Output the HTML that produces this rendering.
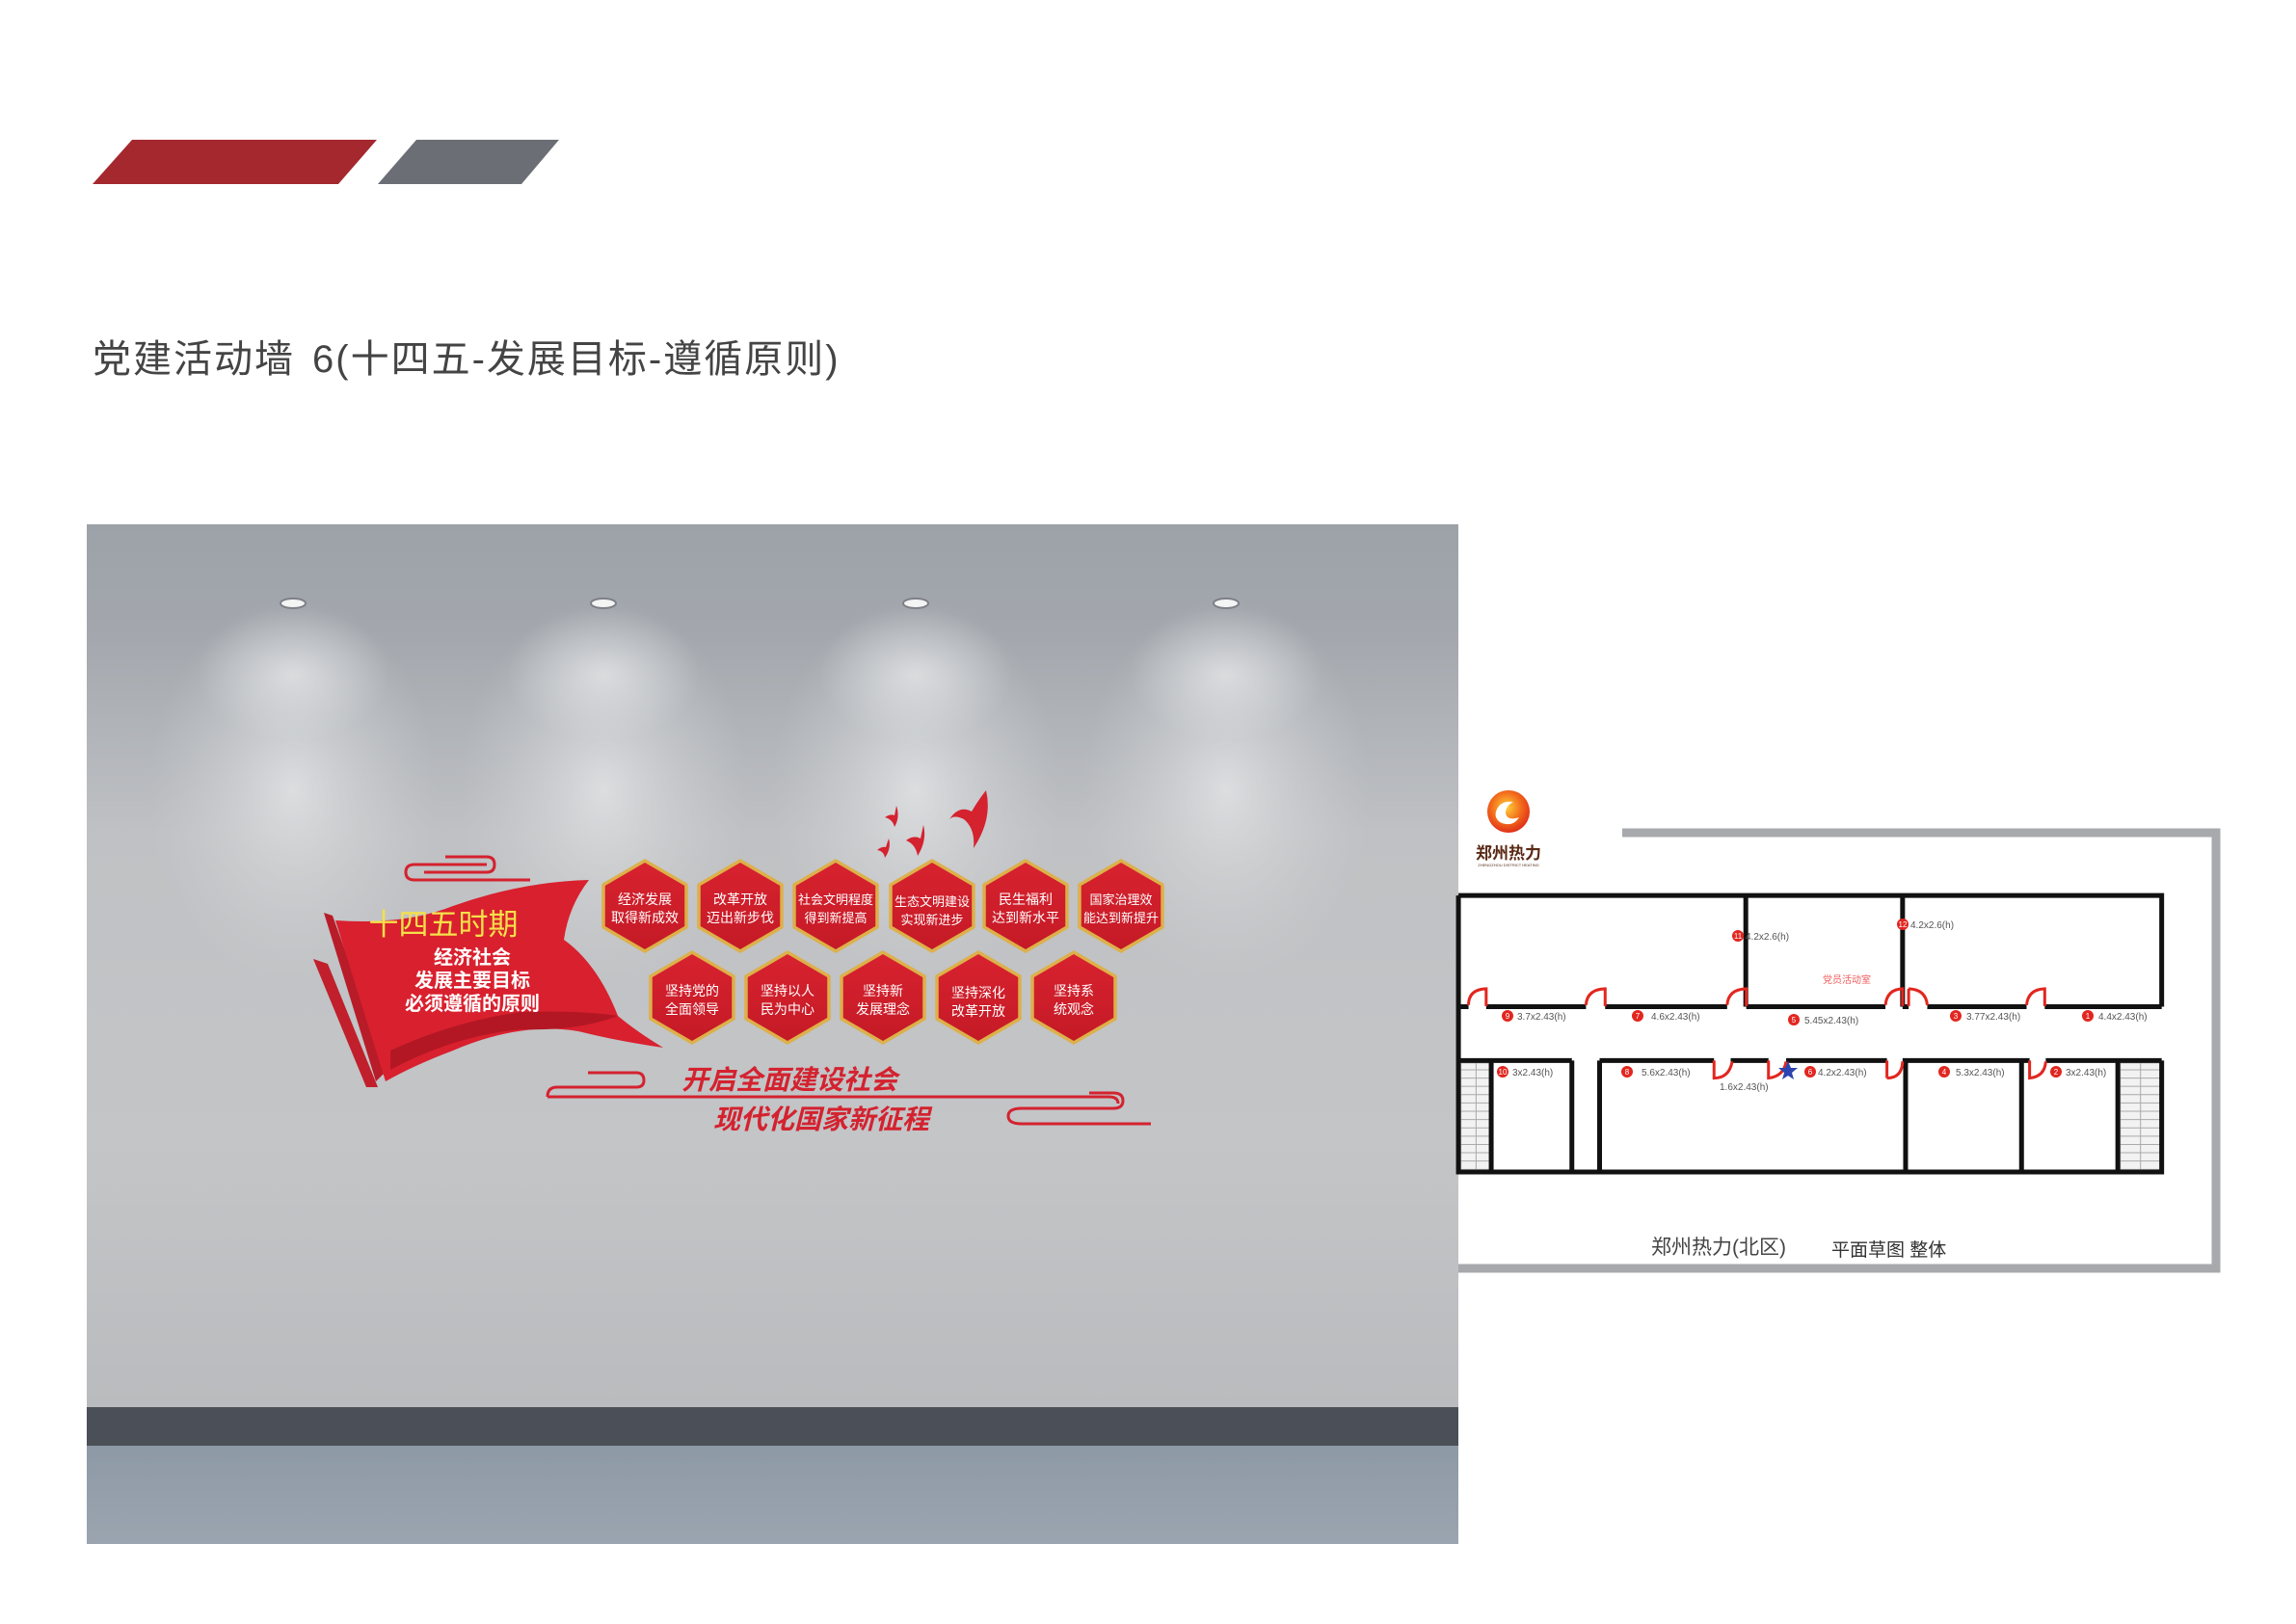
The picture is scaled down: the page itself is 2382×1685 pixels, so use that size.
<!DOCTYPE html>
<html><head><meta charset="utf-8"><style>
html,body{margin:0;padding:0;background:#fff}
body{width:2382px;height:1685px;overflow:hidden;position:relative;font-family:"Liberation Sans","Noto Sans CJK SC",sans-serif}
</style></head><body>
<svg width="2382" height="1685" viewBox="0 0 2382 1685" xmlns="http://www.w3.org/2000/svg" style="position:absolute;left:0;top:0">
<defs>
<linearGradient id="wall" x1="0" y1="0" x2="0" y2="1">
<stop offset="0" stop-color="#9da2a9"/><stop offset="0.12" stop-color="#a3a7ad"/><stop offset="0.35" stop-color="#bfc1c4"/><stop offset="0.7" stop-color="#c3c5c7"/><stop offset="1" stop-color="#b9bbbe"/>
</linearGradient>
<radialGradient id="spot" cx="0.5" cy="0.5" r="0.5">
<stop offset="0" stop-color="#e4e6e8" stop-opacity="0.8"/><stop offset="0.5" stop-color="#d6d8da" stop-opacity="0.45"/><stop offset="1" stop-color="#cfd1d3" stop-opacity="0"/>
</radialGradient>
<radialGradient id="spot2" cx="0.5" cy="0.5" r="0.5">
<stop offset="0" stop-color="#f0f1f2" stop-opacity="0.6"/><stop offset="1" stop-color="#e6e8ea" stop-opacity="0"/>
</radialGradient>
<clipPath id="wc"><rect x="90" y="544" width="1423" height="916"/></clipPath>
<linearGradient id="floor" x1="0" y1="0" x2="0" y2="1"><stop offset="0" stop-color="#8e99a6"/><stop offset="1" stop-color="#9ba5b0"/></linearGradient>
<linearGradient id="hexg" x1="0" y1="0" x2="0" y2="1"><stop offset="0" stop-color="#d8222f"/><stop offset="1" stop-color="#c41a26"/></linearGradient>
<g id="hex"><polygon points="0,-47 43,-22 43,22 0,47 -43,22 -43,-22" fill="url(#hexg)" stroke="#ddb04a" stroke-width="3.5" stroke-linejoin="round"/></g>
<radialGradient id="logo" cx="0.45" cy="0.4" r="0.6"><stop offset="0" stop-color="#ffd23a"/><stop offset="0.6" stop-color="#f26a1b"/><stop offset="1" stop-color="#e0301a"/></radialGradient>
</defs>

<polygon points="96,191 137,145 391,145 351,191" fill="#a5282f"/>
<polygon points="392,191 432,145 580,145 541,191" fill="#6b6e74"/>
<text x="96" y="386" font-size="40" fill="#444" letter-spacing="2" font-family="Liberation Sans,Noto Sans CJK SC,sans-serif">党建活动墙<tspan dx="18">6(十四五-发展目标-遵循原则)</tspan></text>

<rect x="90" y="544" width="1423" height="916" fill="url(#wall)"/>
<g clip-path="url(#wc)">
<ellipse cx="304" cy="820" rx="150" ry="200" fill="url(#spot)"/>
<ellipse cx="626" cy="820" rx="150" ry="200" fill="url(#spot)"/>
<ellipse cx="950" cy="820" rx="150" ry="200" fill="url(#spot)"/>
<ellipse cx="1272" cy="820" rx="150" ry="200" fill="url(#spot)"/>
<ellipse cx="304" cy="700" rx="100" ry="70" fill="url(#spot2)"/>
<ellipse cx="626" cy="700" rx="100" ry="70" fill="url(#spot2)"/>
<ellipse cx="950" cy="700" rx="100" ry="70" fill="url(#spot2)"/>
<ellipse cx="1272" cy="700" rx="100" ry="70" fill="url(#spot2)"/>
</g>
<g fill="#f4f4f4" stroke="#7d8086" stroke-width="2">
<ellipse cx="304" cy="626" rx="13" ry="5"/><ellipse cx="626" cy="626" rx="13" ry="5"/><ellipse cx="950" cy="626" rx="13" ry="5"/><ellipse cx="1272" cy="626" rx="13" ry="5"/></g>
<rect x="90" y="1460" width="1423" height="40" fill="#4b4f57"/>
<rect x="90" y="1500" width="1423" height="102" fill="url(#floor)"/>

<g fill="none" stroke="#d4222f" stroke-width="3">
<path d="M550,913 L430,913 Q421,913 421,905 Q421,897 430,897 L505,897 M462,889 L505,889 Q513,889 513,897 Q513,905 505,905 L440,905"/>
<path d="M568,1138 L1150,1138 Q1160,1138 1160,1145 M568,1138 Q568,1128 578,1128 L660,1128 Q668,1128 668,1121 Q668,1113 660,1113 L610,1113"/>
<path d="M1194,1166 L1060,1166 Q1046,1166 1046,1158 Q1046,1150 1060,1150 L1155,1150 Q1165,1150 1165,1142 Q1165,1134 1155,1134 L1130,1134"/>
</g>

<path d="M336,947 L345,950 L402,1110 L390,1122 Z" fill="#b81c28"/>
<path d="M325,995 L340,1000 L392,1128 L380,1128 Z" fill="#c01f2b"/>
<path d="M348,955 Q420,960 470,940 Q540,915 611,913 Q590,940 585,975 Q620,1000 641,1054 Q660,1070 688,1087 Q640,1080 600,1070 Q540,1060 470,1090 Q430,1105 400,1122 Z" fill="#d9202e"/>
<path d="M405,1090 Q470,1060 540,1050 Q600,1048 641,1054 Q600,1070 540,1068 Q470,1075 405,1110 Z" fill="#b31724"/>
<text x="460" y="970" font-size="31" fill="#f5e04a" text-anchor="middle" font-family="Liberation Sans,Noto Sans CJK SC,sans-serif">十四五时期</text>
<g font-size="20" fill="#fff" font-weight="bold" text-anchor="middle" font-family="Liberation Sans,Noto Sans CJK SC,sans-serif">
<text x="490" y="1000">经济社会</text><text x="490" y="1024">发展主要目标</text><text x="490" y="1048">必须遵循的原则</text></g>

<g fill="#d4222f">
<path d="M1023,820 Q1030,850 1010,880 Q1012,860 1000,850 Q990,845 985,850 Q995,835 1008,842 Q1015,830 1023,820Z"/>
<path d="M958,856 Q962,872 952,888 Q950,876 940,872 Q948,866 955,870Z"/>
<path d="M930,836 Q934,848 928,858 Q926,850 918,848 Q924,844 928,846Z"/>
<path d="M922,870 Q925,880 918,890 Q917,883 910,882 Q915,878 919,879Z"/>
</g>

<g>
<use href="#hex" x="669" y="940"/><use href="#hex" x="768" y="940"/><use href="#hex" x="867" y="940"/><use href="#hex" x="967" y="940"/><use href="#hex" x="1064" y="940"/><use href="#hex" x="1163" y="940"/>
<use href="#hex" x="718" y="1035"/><use href="#hex" x="817" y="1035"/><use href="#hex" x="916" y="1035"/><use href="#hex" x="1015" y="1035"/><use href="#hex" x="1114" y="1035"/>
</g>
<g font-size="14" fill="#fff" text-anchor="middle" font-family="Liberation Sans,Noto Sans CJK SC,sans-serif">
<text x="669" y="938">经济发展</text><text x="669" y="957">取得新成效</text>
<text x="768" y="938">改革开放</text><text x="768" y="957">迈出新步伐</text>
<text x="867" y="938" font-size="13">社会文明程度</text><text x="867" y="957" font-size="13">得到新提高</text>
<text x="967" y="940" font-size="13">生态文明建设</text><text x="967" y="959" font-size="13">实现新进步</text>
<text x="1064" y="938">民生福利</text><text x="1064" y="957">达到新水平</text>
<text x="1163" y="938" font-size="13">国家治理效</text><text x="1163" y="957" font-size="13">能达到新提升</text>
<text x="718" y="1033">坚持党的</text><text x="718" y="1052">全面领导</text>
<text x="817" y="1033">坚持以人</text><text x="817" y="1052">民为中心</text>
<text x="916" y="1033">坚持新</text><text x="916" y="1052">发展理念</text>
<text x="1015" y="1035">坚持深化</text><text x="1015" y="1054">改革开放</text>
<text x="1114" y="1033">坚持系</text><text x="1114" y="1052">统观念</text>
</g>
<g font-size="28" fill="#d4222f" font-weight="bold" font-style="italic" font-family="Liberation Sans,Noto Sans CJK SC,sans-serif">
<text x="707" y="1130">开启全面建设社会</text><text x="740" y="1171">现代化国家新征程</text></g>

<path d="M1683,864 L2299,864 L2299,1316 L1513,1316" fill="none" stroke="#a7a9ac" stroke-width="9"/>
<circle cx="1565" cy="842" r="22" fill="url(#logo)"/>
<path d="M1552,842 Q1556,830 1570,832 Q1562,836 1562,844 Q1564,852 1576,848 Q1570,858 1558,854 Q1550,850 1552,842Z" fill="#fff"/>
<text x="1565" y="891" font-size="17" font-weight="bold" fill="#5a2a16" text-anchor="middle" font-family="Liberation Sans,Noto Sans CJK SC,sans-serif">郑州热力</text>
<text x="1565" y="899" font-size="4" fill="#5a2a16" text-anchor="middle">ZHENGZHOU DISTRICT HEATING</text>

<g transform="translate(1500 800) scale(0.523 0.3444)">
<g stroke="#c8c8c8" stroke-width="1">
<rect x="30" y="880" width="58" height="320" fill="#f2f2f2" vector-effect="non-scaling-stroke"/>
<rect x="1338" y="880" width="80" height="320" fill="#f2f2f2" vector-effect="non-scaling-stroke"/>
<path d="M30,900H88M30,925H88M30,950H88M30,975H88M30,1000H88M30,1025H88M30,1050H88M30,1075H88M30,1100H88M30,1125H88M30,1150H88M30,1175H88M60,880V1200 M1338,900H1418M1338,925H1418M1338,950H1418M1338,975H1418M1338,1000H1418M1338,1025H1418M1338,1050H1418M1338,1075H1418M1338,1100H1418M1338,1125H1418M1338,1150H1418M1338,1175H1418M1378,880V1200" vector-effect="non-scaling-stroke" stroke="#aaa"/>
</g>
<g fill="none" stroke="#111" stroke-width="5">
<path vector-effect="non-scaling-stroke" d="M25,375H1420V710 M25,375V1208H1420V872 M595,375V710 M906,375V710"/>
<path vector-effect="non-scaling-stroke" d="M25,710H45 M80,710H278 M316,710H558 M596,710H872 M906,710H918 M955,710H1152 M1188,710H1420"/>
<path vector-effect="non-scaling-stroke" d="M25,872H250 M305,872H532 M565,872H640 M675,872H875 M906,872H1158 M1190,872H1420"/>
<path vector-effect="non-scaling-stroke" d="M90,872V1208 M250,872V1208 M305,872V1208 M912,872V1208 M1142,872V1208 M1333,872V1208"/>
</g>
<g fill="none" stroke="#e2261f" stroke-width="3">
<path vector-effect="non-scaling-stroke" d="M45,705Q45,658 80,656V708 M278,705Q280,658 316,656V708 M558,705Q560,658 596,656V708 M872,705Q875,658 906,656V708 M918,656Q952,658 955,705 M918,656V708 M1152,705Q1155,658 1188,656V708"/>
<path vector-effect="non-scaling-stroke" d="M532,872V925Q562,925 568,875 M640,872V925Q670,920 675,875 M875,925Q905,925 906,875 M875,925V872 M1158,872V925Q1188,920 1190,875"/>
</g>
</g>
<g font-size="10" fill="#555" font-family="Liberation Sans,Noto Sans CJK SC,sans-serif">
<g fill="#e2261f">
<circle cx="1803" cy="971" r="6"/><circle cx="1974" cy="959" r="6"/><circle cx="1564" cy="1054" r="6"/><circle cx="1699" cy="1054" r="6"/><circle cx="1861" cy="1058" r="6"/><circle cx="2029" cy="1054" r="6"/><circle cx="2166" cy="1054" r="6"/><circle cx="1559" cy="1112" r="6"/><circle cx="1688" cy="1112" r="6"/><circle cx="1878" cy="1112" r="6"/><circle cx="2017" cy="1112" r="6"/><circle cx="2133" cy="1112" r="6"/>
</g>
<g fill="#fff" font-size="8" text-anchor="middle">
<text x="1803" y="974">11</text><text x="1974" y="962">12</text><text x="1564" y="1057">9</text><text x="1699" y="1057">7</text><text x="1861" y="1061">5</text><text x="2029" y="1057">3</text><text x="2166" y="1057">1</text><text x="1559" y="1115">10</text><text x="1688" y="1115">8</text><text x="1878" y="1115">6</text><text x="2017" y="1115">4</text><text x="2133" y="1115">2</text>
</g>
<text x="1811" y="975">4.2x2.6(h)</text><text x="1982" y="963">4.2x2.6(h)</text>
<text x="1574" y="1058">3.7x2.43(h)</text><text x="1713" y="1058">4.6x2.43(h)</text><text x="1872" y="1062">5.45x2.43(h)</text><text x="2040" y="1058">3.77x2.43(h)</text><text x="2177" y="1058">4.4x2.43(h)</text>
<text x="1569" y="1116">3x2.43(h)</text><text x="1703" y="1116">5.6x2.43(h)</text><text x="1784" y="1131">1.6x2.43(h)</text><text x="1886" y="1116">4.2x2.43(h)</text><text x="2029" y="1116">5.3x2.43(h)</text><text x="2143" y="1116">3x2.43(h)</text>
<text x="1916" y="1020" fill="#f05a5a" text-anchor="middle">党员活动室</text>
</g>
<polygon points="1855,1101 1858,1108 1865,1108 1859,1113 1861,1120 1855,1116 1849,1120 1851,1113 1845,1108 1852,1108" fill="#2b44b0"/>
<text x="1713" y="1301" font-size="21" fill="#444" font-family="Liberation Sans,Noto Sans CJK SC,sans-serif">郑州热力(北区)</text>
<text x="1900" y="1303" font-size="19" fill="#333" font-family="Liberation Sans,Noto Sans CJK SC,sans-serif">平面草图 整体</text>
</svg>
</body></html>
